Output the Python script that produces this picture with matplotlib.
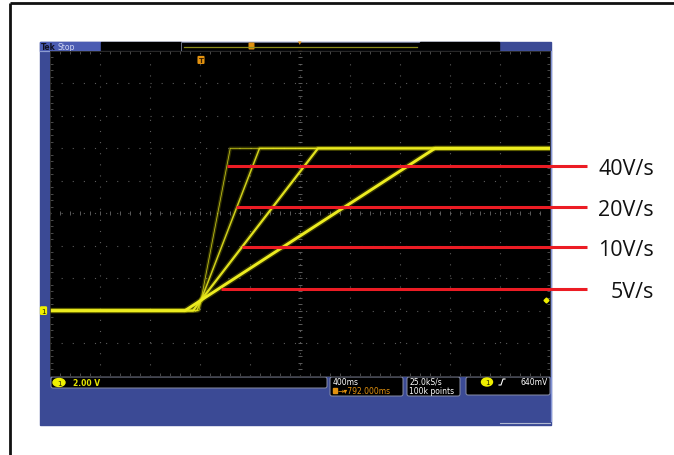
import matplotlib.pyplot as plt
from matplotlib.patches import Rectangle, FancyBboxPatch, Ellipse

# scope settings
volts_per_div = 2.0
sec_per_div = 0.4
h_position_s = 0.792
ground_div = -3
trigger_level_v = 0.64

# four captured ramps
rates = ["40V/s", "20V/s", "10V/s", "5V/s"]
ramp_start_s = [-0.016, -0.032, -0.064, -0.128]
ramp_end_s = [0.234, 0.468, 0.936, 1.872]
low_v = [0.0, 0.0, 0.0, 0.0]
high_v = [10.0, 10.0, 10.0, 10.0]
trace_lw = [0.6, 1.1, 1.6, 2.1]
trace_alpha = [0.75, 0.85, 0.95, 1.0]

# red marker lines and their labels
label_level_v = [8.9, 6.4, 3.9, 1.35]
label_start_s = [0.208, 0.28, 0.328, 0.16]
label_end_s = 3.088
label_text_s = 3.624

W, H = 674, 456
fig = plt.figure(figsize=(W / 100, H / 100), dpi=100)

# background layer in pixel coordinates
bg = fig.add_axes([0, 0, 1, 1], zorder=0)
bg.set_xlim(0, W)
bg.set_ylim(H, 0)
bg.axis("off")

# outer black frame
bg.plot([10, 10], [4, H], color="#111111", lw=2.0, solid_capstyle="butt")
bg.plot([10, W], [4, 4], color="#111111", lw=2.0, solid_capstyle="butt")

# scope panel
bg.add_patch(Rectangle((40, 43), 511, 383, color="#3b4a95"))
bg.add_patch(Rectangle((40, 43), 61, 9, color="#4b5cb2"))
bg.text(41, 47.5, "Tek", fontsize=5.5, fontweight="bold", color="#101020", va="center")
bg.text(57, 47.5, "Stop", fontsize=5.5, color="#d0d6f4", va="center")
bg.add_patch(Rectangle((101, 43), 80, 9, color="black"))
bg.add_patch(Rectangle((181, 43), 239, 9, facecolor="black", edgecolor="#7d8599", lw=0.6))
bg.plot([184, 417], [47.5, 47.5], color="#8c8c1c", lw=0.9)
bg.add_patch(Rectangle((420, 43), 79, 9, color="black"))
bg.plot([40, 551], [52, 52], color="#8c9ccf", lw=0.8)
bg.add_patch(FancyBboxPatch((249.5, 44.5), 4, 5, boxstyle="round,pad=0.3", color="#e3920f"))
bg.text(300, 43.5, "▾", fontsize=5, color="#e3920f", ha="center", va="center")
bg.text(300, 51.5, "▾", fontsize=6, color="#e3920f", ha="center", va="center")
bg.plot([550.5, 550.5], [52, 422], color="#8596d6", lw=0.9)
bg.plot([500, 550], [424, 424], color="#b0b8d0", lw=0.8)

# status bar
def box(x0, y0, x1, y1):
    bg.add_patch(FancyBboxPatch((x0, y0), x1 - x0, y1 - y0,
                                boxstyle="round,pad=0,rounding_size=2",
                                facecolor="black", edgecolor="#8a90a8", lw=0.7))

box(51, 378, 327, 389)
bg.add_patch(Ellipse((59, 383.5), 12, 8, color="#f0f000"))
bg.text(59, 383.7, "1", fontsize=5, color="#202000", ha="center", va="center")
bg.text(73, 383.5, "2.00 V", fontsize=5.5, color="#e6e600", va="center", fontweight="bold")

box(330, 378, 403, 397)
bg.text(333, 382.5, "400ms", fontsize=5.5, color="white", va="center")
bg.add_patch(Rectangle((333, 389.5), 4, 5, color="#e3920f"))
bg.text(338, 392, "→▾792.000ms", fontsize=5.5, color="#e3920f", va="center")

box(407, 378, 460, 397)
bg.text(409, 382.5, "25.0kS/s", fontsize=5.5, color="white", va="center")
bg.text(409, 392, "100k points", fontsize=5.5, color="white", va="center")

box(466, 378, 550, 396)
bg.add_patch(Ellipse((487, 383), 11, 8, color="#f0f000"))
bg.text(487, 383.2, "1", fontsize=5, color="#202000", ha="center", va="center")
# rising-edge trigger symbol
bg.plot([499, 501, 503, 505], [386, 386, 380, 380], color="white", lw=0.8)
bg.text(548, 383, "640mV", fontsize=5.5, color="white", ha="right", va="center")

# scope screen
ax = fig.add_axes([50 / W, 1 - 376.5 / H, 500 / W, 324.5 / H], zorder=1)
ax.set_facecolor("black")
t0 = h_position_s - 5 * sec_per_div
t1 = h_position_s + 5 * sec_per_div
v_mid = -ground_div * volts_per_div
v0 = v_mid - 5 * volts_per_div
v1 = v_mid + 5 * volts_per_div
ax.set_xlim(t0, t1)
ax.set_ylim(v0, v1)
for s in ax.spines.values():
    s.set_color("#303030")
    s.set_linewidth(0.6)

ax.set_xticks([t0 + i * sec_per_div for i in range(11)])
ax.set_yticks([v0 + i * volts_per_div for i in range(11)])
ax.set_xticks([t0 + i * sec_per_div / 5 for i in range(51)], minor=True)
ax.set_yticks([v0 + i * volts_per_div / 5 for i in range(51)], minor=True)
ax.tick_params(which="both", direction="in", colors="#555555", top=True, right=True,
               labelbottom=False, labelleft=False, length=2.5, width=0.6)
ax.tick_params(which="major", length=0)

for i in range(1, 10):
    ax.axvline(t0 + i * sec_per_div, color="#5c5c5c", lw=0.8, ls=(0, (1, 9)))
    ax.axhline(v0 + i * volts_per_div, color="#5c5c5c", lw=0.8, ls=(0, (1, 9)))

# centre-cross ticks
for i in range(51):
    ax.plot(t0 + i * sec_per_div / 5, v_mid, marker="|", ms=3, color="#6a6a6a", mew=0.6)
    ax.plot(h_position_s, v0 + i * volts_per_div / 5, marker="_", ms=3, color="#6a6a6a", mew=0.6)

# traces
for i in range(len(rates)):
    ts = [t0, ramp_start_s[i], ramp_end_s[i], t1]
    vs = [low_v[i], low_v[i], high_v[i], high_v[i]]
    ax.plot(ts, vs, color="#d4d400", lw=trace_lw[i] + 2.0, alpha=0.22,
            solid_joinstyle="round")
    ax.plot(ts, vs, color="#ecec20", lw=trace_lw[i], alpha=trace_alpha[i],
            solid_joinstyle="round")

# markers on screen
ax.text(0, v1 - 0.55, "T", fontsize=5, fontweight="bold", color="#3a2000", ha="center",
        va="center", bbox=dict(boxstyle="round,pad=0.15", fc="#e3920f", ec="none"))
ax.plot(t1 - 0.03, trigger_level_v, marker="D", ms=2.5, color="#f0f000", clip_on=False)
ax.text(-0.013, 0, "1", transform=ax.get_yaxis_transform(), fontsize=5,
        color="#202000", ha="center", va="center", clip_on=False,
        bbox=dict(boxstyle="round,pad=0.2", fc="#f0f000", ec="none"))

# red annotation lines + labels
for i in range(len(rates)):
    ax.plot([label_start_s[i], label_end_s], [label_level_v[i], label_level_v[i]],
            color="#ec1c24", lw=2.2, clip_on=False, zorder=5, solid_capstyle="butt")
    ax.text(label_text_s, label_level_v[i], rates[i], fontsize=15.5, family="Open Sans",
            color="#111111", ha="right", va="center_baseline", clip_on=False, zorder=5)

fig.savefig("out.png", dpi=100)
